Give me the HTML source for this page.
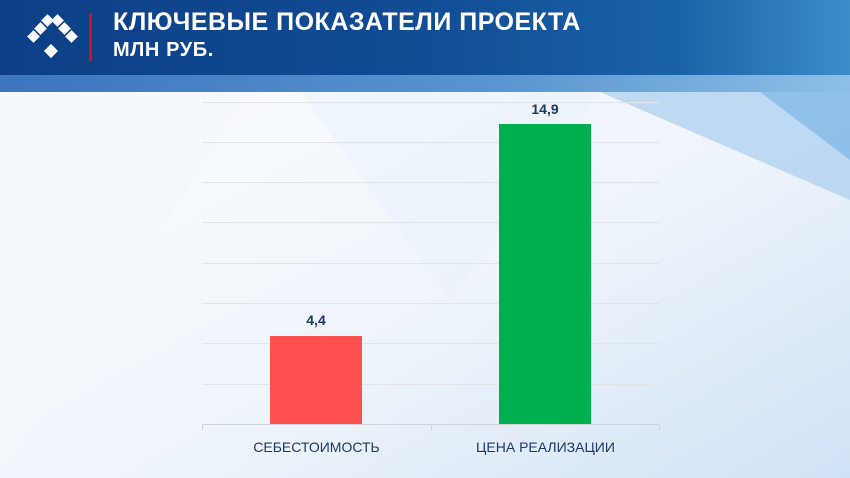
<!DOCTYPE html>
<html><head><meta charset="utf-8"><style>
body{margin:0;width:850px;height:478px;overflow:hidden;font-family:"Liberation Sans",sans-serif;background:#fff;position:relative}
.hdr{position:absolute;left:0;top:0;width:850px;height:75px;background:linear-gradient(90deg,#0c3f86 0%,#114c95 50%,#1a63a8 80%,#3d8cc8 100%)}
.band{position:absolute;left:0;top:75px;width:850px;height:17px;background:linear-gradient(90deg,#3c74bf,#5a96d0 60%,#8cc0e6)}
.t{position:absolute;color:#fff;font-weight:bold}
.g{position:absolute;left:202px;width:458px;height:1px;background:#e1e4e8}
.lbl{position:absolute;font-size:14px;color:#1f3864;text-align:center}
.v{position:absolute;font-size:14px;font-weight:bold;color:#1f3864;text-align:center}
</style></head><body>
<svg width="850" height="478" style="position:absolute;left:0;top:0">
<defs><linearGradient id="bg" x1="0" y1="0" x2="1" y2="1"><stop offset="0" stop-color="#fff"/><stop offset="0.6" stop-color="#eef4fb"/><stop offset="1" stop-color="#cfe2f5"/></linearGradient></defs>
<rect width="850" height="478" fill="url(#bg)"/>
<polygon points="600,92 850,92 850,200" fill="#a9cdef" opacity="0.7"/>
<polygon points="700,92 850,92 850,160 760,92" fill="#6fb0e6" opacity="0.6"/>
<polygon points="0,92 250,92 0,478" fill="#f4f7fb" opacity="0.8"/>
<polygon points="300,92 600,92 450,300" fill="#e6eff9" opacity="0.4"/>
</svg>
<div class="hdr"></div><div class="band"></div>
<svg width="80" height="70" style="position:absolute;left:20px;top:8px">
<g fill="#fff">
<rect x="23" y="8" width="9" height="9" transform="rotate(45 27.5 12.5)"/>
<rect x="33" y="8" width="9" height="9" transform="rotate(45 37.5 12.5)"/>
<rect x="16" y="16" width="9" height="9" transform="rotate(45 20.5 20.5)"/>
<rect x="40" y="16" width="9" height="9" transform="rotate(45 44.5 20.5)"/>
<rect x="9" y="24" width="9" height="9" transform="rotate(45 13.5 28.5)"/>
<rect x="47" y="24" width="9" height="9" transform="rotate(45 51.5 28.5)"/>
<rect x="26" y="38" width="10" height="10" transform="rotate(45 31 43)"/>
</g></svg>
<div style="position:absolute;left:89px;top:13px;width:3px;height:48px;background:#d0121b"></div>
<div class="t" style="left:113px;top:8px;font-size:25px;letter-spacing:0.5px">КЛЮЧЕВЫЕ ПОКАЗАТЕЛИ ПРОЕКТА</div>
<div class="t" style="left:113px;top:39px;font-size:20px;letter-spacing:0.6px">МЛН РУБ.</div>
<div class="g" style="top:102px"></div><div class="g" style="top:142px"></div><div class="g" style="top:182px"></div><div class="g" style="top:222px"></div><div class="g" style="top:263px"></div><div class="g" style="top:303px"></div><div class="g" style="top:343px"></div><div class="g" style="top:384px"></div>
<div class="g" style="top:424px;background:#d0d4d9"></div>
<div style="position:absolute;left:202px;top:424px;width:1px;height:6px;background:#d0d4d9"></div>
<div style="position:absolute;left:431px;top:424px;width:1px;height:6px;background:#d0d4d9"></div>
<div style="position:absolute;left:659px;top:424px;width:1px;height:6px;background:#d0d4d9"></div>
<div style="position:absolute;left:270px;top:336px;width:92px;height:88px;background:#ff5050"></div>
<div style="position:absolute;left:499px;top:124px;width:92px;height:300px;background:#00b050"></div>
<div class="v" style="left:270px;top:312px;width:92px">4,4</div>
<div class="v" style="left:499px;top:101px;width:92px">14,9</div>
<div class="lbl" style="left:202px;top:439px;width:229px">СЕБЕСТОИМОСТЬ</div>
<div class="lbl" style="left:431px;top:439px;width:229px">ЦЕНА РЕАЛИЗАЦИИ</div>
</body></html>
